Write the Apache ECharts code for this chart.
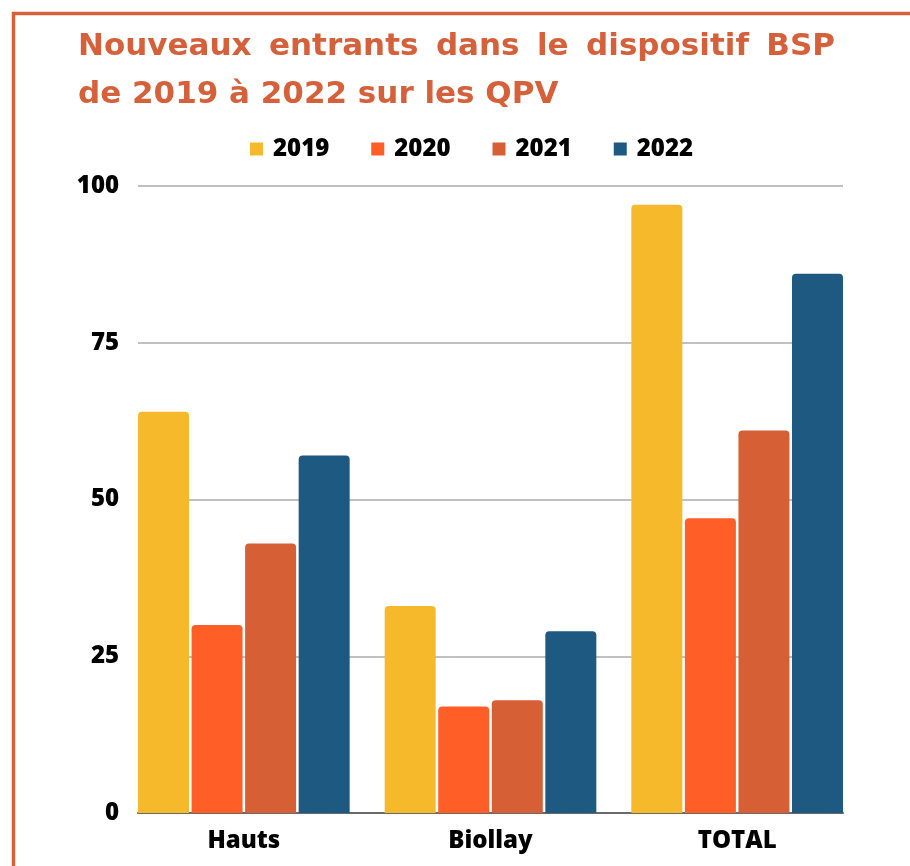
<!DOCTYPE html>
<html>
<head>
<meta charset="utf-8">
<script src="https://cdn.jsdelivr.net/npm/echarts@6/dist/echarts.min.js"></script>
<style>
html,body{margin:0;padding:0;background:#fff;}
#c{width:910px;height:866px;}
</style>
</head>
<body>
<div id="c"></div>
<script>
const categories = ['Hauts', 'Biollay', 'TOTAL'];
const years = ['2019', '2020', '2021', '2022'];
const v2019 = [64, 33, 97];
const v2020 = [30, 17, 47];
const v2021 = [43, 18, 61];
const v2022 = [57, 29, 86];
const yMin = 0, yMax = 100, yInterval = 25;
const titleLine1 = ['Nouveaux', 'entrants', 'dans', 'le', 'dispositif', 'BSP'];
const titleLine2 = 'de 2019 à 2022 sur les QPV';

const colors = ['#F6B92B', '#FF5E27', '#D65F36', '#1D5981'];
const seriesValues = [v2019, v2020, v2021, v2022];
const titleColor = '#D5603A';
const titleFont = 'bold 31px "DejaVu Sans"';
const line1Left = 78, line1Right = 835;

// justify first title line
const cv = document.createElement('canvas').getContext('2d');
cv.font = titleFont;
const widths = titleLine1.map(w => cv.measureText(w).width);
const totalW = widths.reduce((a, b) => a + b, 0);
const gap = (line1Right - line1Left - totalW) / (titleLine1.length - 1);

const chart = echarts.init(document.getElementById('c'), null, {renderer: 'canvas'});
const labelFont = {fontFamily: '"Open Sans", "Noto Sans", sans-serif', fontWeight: 800, color: '#000'};

const graphics = [
  {type: 'rect', shape: {x: 13.5, y: 13.5, width: 1000, height: 1000}, style: {fill: 'none', stroke: '#D5603A', lineWidth: 3.5}, silent: true, z: 0}
];
let cx = line1Left;
titleLine1.forEach((w, i) => {
  graphics.push({type: 'text', x: cx, y: 47, style: {text: w, fill: titleColor, font: titleFont, textAlign: 'left', textVerticalAlign: 'middle'}});
  cx += widths[i] + gap;
});
graphics.push({type: 'text', x: 78, y: 95, style: {text: titleLine2, fill: titleColor, font: titleFont, textAlign: 'left', textVerticalAlign: 'middle'}});

chart.setOption({
  animation: false,
  color: colors,
  graphic: graphics,
  legend: {
    left: 250, top: 137, padding: 0,
    icon: 'rect', itemWidth: 13, itemHeight: 13, itemGap: 42,
    textStyle: Object.assign({fontSize: 24, padding: [0, 0, 0, 5]}, labelFont),
    data: years
  },
  grid: [
    {left: 138, right: 67, top: 186, bottom: 53},
    {left: 120.5, right: 49.5, top: 186, bottom: 53}
  ],
  xAxis: [
    {gridIndex: 0, type: 'category', data: categories, axisLine: {lineStyle: {color: '#6a6a6a', width: 2}}, axisTick: {show: false}, axisLabel: {show: false}},
    {gridIndex: 1, type: 'category', data: categories, axisLine: {show: false}, axisTick: {show: false},
     axisLabel: Object.assign({fontSize: 24, margin: 16}, labelFont)}
  ],
  yAxis: [
    {gridIndex: 0, type: 'value', min: yMin, max: yMax, interval: yInterval,
     axisLine: {show: false}, axisTick: {show: false},
     splitLine: {lineStyle: {color: '#c0c0c0', width: 2}},
     axisLabel: Object.assign({fontSize: 24, margin: 19}, labelFont)},
    {gridIndex: 1, type: 'value', min: yMin, max: yMax, interval: yInterval, show: false, splitLine: {show: false}}
  ],
  series: years.map((y, i) => ({
    name: y, type: 'bar', xAxisIndex: 1, yAxisIndex: 1,
    data: seriesValues[i], barWidth: 51, barGap: '5%',
    itemStyle: {color: colors[i], borderRadius: [4, 4, 0, 0]}
  }))
});
</script>
</body>
</html>
